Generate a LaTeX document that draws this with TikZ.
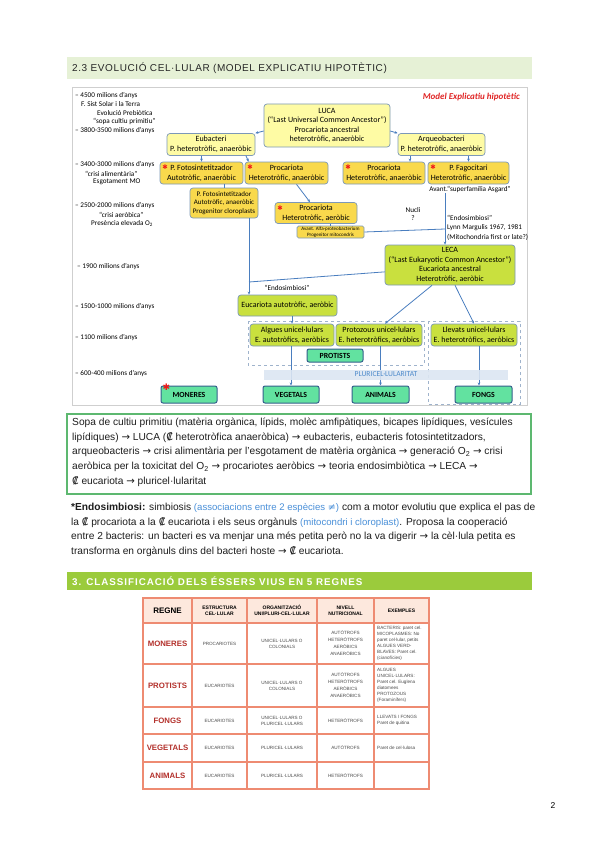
\documentclass[tikz,border=0pt]{standalone}
\usepackage{fontspec}
\setmainfont{Liberation Sans}
\newfontfamily\calib{Carlito}
\newfontfamily\dejavu{DejaVu Sans}
\newfontfamily\spaced[LetterSpace=6]{Liberation Sans}
\newfontfamily\spacedwide[LetterSpace=10]{Liberation Sans}
\usetikzlibrary{positioning, arrows.meta, calc}
\definecolor{paleyellow}{HTML}{FEFBA4}
\definecolor{goldfill}{HTML}{F9D94C}
\definecolor{limefill}{HTML}{C9E03E}
\definecolor{mintfill}{HTML}{62E2A0}
\definecolor{boxedge}{HTML}{7C98B8}
\definecolor{darkedge}{HTML}{35608C}
\definecolor{arrowblue}{HTML}{4A7EBF}
\definecolor{dashgray}{HTML}{9FB3CC}
\definecolor{bandblue}{HTML}{DCE6F2}
\definecolor{bandtext}{HTML}{4F8BCB}
\definecolor{starred}{HTML}{F01818}
\definecolor{titlered}{HTML}{E02424}
\definecolor{framegray}{HTML}{CFCFCF}
\definecolor{headpale}{HTML}{E6F1D6}
\definecolor{headgreen}{HTML}{9BCB3C}
\definecolor{boxgreen}{HTML}{5DB870}
\definecolor{linkblue}{HTML}{4A90D9}
\definecolor{tableline}{HTML}{EE8B72}
\definecolor{tablehead}{HTML}{FDE8DD}
\definecolor{regnered}{HTML}{B3302B}
\definecolor{celltext}{HTML}{4A4A4A}
\definecolor{bodytext}{HTML}{1E1E1E}
\newcommand{\fl}{{\dejavu →}}
\newcommand{\cel}{{\dejavu ₡}}
\newcommand{\blau}[1]{\textcolor{linkblue}{#1}}

\begin{document}
\begin{tikzpicture}[x=1pt, y=-1pt,
  ybox/.style={rectangle, draw=boxedge, line width=0.7pt, fill=paleyellow, rounded corners=3pt, align=center, inner sep=0pt, font=\calib\fontsize{8}{9.6}\selectfont},
  gbox/.style={ybox, fill=goldfill},
  lbox/.style={ybox, fill=limefill},
  mbox/.style={rectangle, draw=darkedge, line width=1pt, fill=mintfill, rounded corners=2pt, inner sep=0pt, font=\calib\bfseries\fontsize{7.8}{9}\selectfont},
  arrow/.style={-{Stealth[length=3pt, width=2.6pt]}, draw=arrowblue, line width=0.8pt},
  link/.style={draw=arrowblue, line width=0.8pt},
  tl/.style={anchor=west, inner sep=0pt, font=\calib\fontsize{7.2}{8}\selectfont},
  note/.style={inner sep=0pt, font=\calib\fontsize{7.2}{9.5}\selectfont},
  redstar/.style={text=starred, inner sep=0pt, font=\dejavu\fontsize{6.5}{6.5}\selectfont},
  dgroup/.style={draw=dashgray, dashed, line width=0.8pt},
  bodytxt/.style={anchor=north west, align=left, inner sep=0pt, text=bodytext, font=\fontsize{10.2}{14.6}\selectfont},
  cell/.style={inner sep=0pt, align=center, text=celltext, font=\fontsize{4.6}{6}\selectfont},
  thead/.style={inner sep=0pt, align=center, font=\bfseries\fontsize{5}{6.4}\selectfont},
  regne/.style={inner sep=0pt, text=regnered, font=\bfseries\fontsize{7.8}{9}\selectfont}
]
  \fill[white] (0,0) rectangle (599,848);
  \useasboundingbox (0,0) rectangle (599,848);

  \node[fill=headpale, minimum width=465pt, minimum height=22pt, anchor=north west, inner sep=0pt] (h1) at (67,57) {};
  \node[anchor=west, inner sep=0pt, text=black!85, font=\spaced\fontsize{10}{12}\selectfont] (h1t) at ([xshift=5pt]h1.west) {2.3 EVOLUCIÓ CEL·LULAR (MODEL EXPLICATIU HIPOTÈTIC)};

  \draw[framegray, line width=1pt] (72,88) rectangle (527,405);
  \node[anchor=east, inner sep=0pt, text=titlered, font=\calib\bfseries\itshape\fontsize{9}{10}\selectfont] (model) at (520,97) {Model Explicatiu hipotètic};

  \node[tl] (t1) at (75,96) {– 4500 milions d’anys};
  \node[tl] (t2) at (81,104.5) {F. Sist Solar i la Terra};
  \node[tl] (t3) at (97,113) {Evolució Prebiòtica};
  \node[tl] (t4) at (93,121.5) {“sopa cultiu primitiu”};
  \node[tl] (t5) at (75,130.5) {– 3800-3500 milions d’anys};
  \node[tl] (t6) at (75,165) {– 3400-3000 milions d’anys};
  \node[tl] (t7) at (85,173.5) {“crisi alimentària”};
  \node[tl] (t8) at (93,182) {Esgotament MO};
  \node[tl] (t9) at (75,206) {– 2500-2000 milions d’anys};
  \node[tl] (t10) at (99,214.5) {“crisi aeròbica”};
  \node[tl] (t11) at (91,223) {Presència elevada O\textsubscript{2}};
  \node[tl] (t12) at (77,267) {– 1900 milions d’anys};
  \node[tl] (t13) at (75,307) {– 1500-1000 milions d’anys};
  \node[tl] (t14) at (75,337.5) {– 1100 milions d’anys};
  \node[tl] (t15) at (75,374) {– 600-400 milions d’anys};

  \node[ybox, minimum width=126pt, minimum height=43pt] (luca) at (327,125.5) {LUCA\\(“Last Universal Common Ancestor”)\\Procariota ancestral\\heterotròfic, anaeròbic};
  \node[ybox, minimum width=88pt, minimum height=22pt] (eub) at (211,144.5) {Eubacteri\\P. heterotròfic, anaeròbic};
  \node[ybox, minimum width=87pt, minimum height=22pt] (arq) at (441.5,144.5) {Arqueobacteri\\P. heterotròfic, anaeròbic};
  \node[gbox, minimum width=83pt, minimum height=22pt] (fot) at (201.5,173) {P. Fotosintetitzador\\Autotròfic, anaeròbic};
  \node[gbox, minimum width=83pt, minimum height=22pt] (prl) at (286.5,173) {Procariota\\Heterotròfic, anaeròbic};
  \node[gbox, minimum width=82pt, minimum height=22pt] (prr) at (384,173) {Procariota\\Heterotròfic, anaeròbic};
  \node[gbox, minimum width=81pt, minimum height=22pt] (fag) at (468.5,173) {P. Fagocitari\\Heterotròfic, anaeròbic};
  \node[note] (asg) at (470,189.5) {Avant.“superfamília Asgard”};
  \node[gbox, minimum width=68pt, minimum height=30pt, font=\calib\fontsize{7}{8.6}\selectfont] (fot2) at (224,203) {P. Fotosintetitzador\\Autotròfic, anaeròbic\\Progenitor cloroplasts};
  \node[gbox, minimum width=82pt, minimum height=21pt] (pra) at (316,213) {Procariota\\Heterotròfic, aeròbic};
  \node[gbox, minimum width=67pt, minimum height=12pt, rounded corners=1.5pt, font=\calib\fontsize{5}{5.6}\selectfont] (alfa) at (330.5,232) {Avant. Alfa-proteobacterium\\Progenitor mitocondris};
  \node[note, align=center, font=\calib\fontsize{7.2}{8.6}\selectfont] (nuc) at (413,214) {Nucli\\?};
  \node[note, align=left, anchor=north west] (endn) at (447,215) {“Endosimbiosi”\\Lynn Margulis 1967, 1981\\(Mitochondria first or late?)};
  \node[lbox, minimum width=130pt, minimum height=40pt] (leca) at (450,265) {LECA\\(“Last Eukaryotic Common Ancestor”)\\Eucariota ancestral\\Heterotròfic, aeròbic};
  \node[note] (endl) at (287,287.5) {“Endosimbiosi”};
  \node[lbox, minimum width=99pt, minimum height=21pt] (euc) at (287.5,305.5) {Eucariota autotròfic, aeròbic};

  \draw[dgroup] (248,321) rectangle (424,365);
  \draw[dgroup] (428,321) rectangle (520,404);
  \node[lbox, minimum width=84pt, minimum height=22pt] (alg) at (292,335) {Algues unicel·lulars\\E. autotròfics, aeròbics};
  \node[lbox, minimum width=86pt, minimum height=22pt] (pro) at (379,335) {Protozous unicel·lulars\\E. heterotròfics, aeròbics};
  \node[lbox, minimum width=86pt, minimum height=22pt] (llev) at (474,335) {Llevats unicel·lulars\\E. heterotròfics, aeròbics};
  \node[mbox, minimum width=56pt, minimum height=13pt] (prot) at (335,355.5) {PROTISTS};
  \node[mbox, minimum width=56pt, minimum height=17pt] (mon) at (189,394.5) {MONERES};
  \node[mbox, minimum width=56pt, minimum height=17pt] (veg) at (291,394.5) {VEGETALS};
  \node[mbox, minimum width=57pt, minimum height=17pt] (ani) at (380.5,394.5) {ANIMALS};
  \node[mbox, minimum width=57pt, minimum height=17pt] (fon) at (483.5,394.5) {FONGS};

  \node[redstar, below right=3pt and 2.5pt of fot.north west] {✱};
  \node[redstar, below right=3pt and 2.5pt of prl.north west] {✱};
  \node[redstar, below right=3pt and 2.5pt of prr.north west] {✱};
  \node[redstar, below right=3pt and 2.5pt of fag.north west] {✱};
  \node[redstar, below right=3pt and 2.5pt of pra.north west] {✱};
  \node[redstar, font=\dejavu\fontsize{9}{9}\selectfont, below right=-2pt and 2pt of mon.north west] {✱};

  \draw[arrow] (luca.185) -- (eub.north east);
  \draw[arrow] (luca.-5) -- (arq.north west);
  \draw[arrow] (fot.north |- eub.south) -- (fot.north);
  \draw[arrow] (eub.-18) -- ([xshift=4pt]prl.north west);
  \draw[arrow] ([xshift=26pt]prr.north |- arq.south) -- ([xshift=26pt]prr.north);
  \draw[arrow] (fag.north |- arq.south) -- (fag.north);
  \draw[link] (fot2.north |- fot.south) -- (fot2.north);
  \draw[arrow] ([xshift=10pt]prl.south) -- ([xshift=-6pt]pra.north);
  \draw[link] (alfa.north |- pra.south) -- (alfa.north);
  \coordinate (mj) at (445,229);
  \draw[link] (alfa.east) -- (mj);
  \draw[arrow] (asg.south -| mj) -- (leca.north -| mj);
  \coordinate (jn) at (249,282);
  \draw[link] ([xshift=25pt]fot2.south) -- (jn);
  \draw[link] (leca.186) -- (jn);
  \draw[arrow] (jn) -- (jn |- euc.north);
  \draw[arrow] ([xshift=-18pt]leca.south) -- ([xshift=6pt]pro.north);
  \draw[arrow] ([xshift=5pt]leca.south) -- (llev.north);
  \draw[arrow] (alg.north |- euc.south) -- (alg.north);
  \draw[arrow] (alg.south -| veg) -- (veg.north);
  \draw[arrow] (ani.north |- pro.south) -- (ani.north);
  \draw[arrow] ([xshift=5pt]llev.south) -- ([xshift=-4.5pt]fon.north);

  \node[fill=bandblue, fill opacity=0.9, text opacity=1, minimum width=244pt, minimum height=10pt, inner sep=0pt, text=bandtext, font=\calib\fontsize{7.6}{8}\selectfont] (band) at (386,374.5) {PLURICEL·LULARITAT};

  \node[draw=boxgreen, line width=1.5pt, minimum width=464pt, minimum height=80pt, anchor=north west, inner sep=0pt] (sopabox) at (66,413) {};
  \node[bodytxt] (sopa) at (72,418) {Sopa de cultiu primitiu (matèria orgànica, lípids, molèc amfipàtiques, bicapes lipídiques, vesícules\\
lipídiques) \fl{} LUCA (\cel{} heterotròfica anaeròbica) \fl{} eubacteris, eubacteris fotosintetitzadors,\\
arqueobacteris \fl{} crisi alimentària per l'esgotament de matèria orgànica \fl{} generació O\textsubscript{2} \fl{} crisi\\
aeròbica per la toxicitat del O\textsubscript{2} \fl{} procariotes aeròbics \fl{} teoria endosimbiòtica \fl{} LECA \fl\\
\cel{} eucariota \fl{} pluricel·lularitat};

  \node[bodytxt] (endo) at (71,503) {\textbf{*Endosimbiosi:} simbiosis \blau{\fontsize{9.6}{10}\selectfont(associacions entre 2 espècies {\dejavu ≠})} com a motor evolutiu que explica el pas de\\
la \cel{} procariota a la \cel{} eucariota i els seus orgànuls \blau{\fontsize{9.6}{10}\selectfont(mitocondri i cloroplast)}. Proposa la cooperació\\
entre 2 bacteris: un bacteri es va menjar una més petita però no la va digerir \fl{} la cèl·lula petita es\\
transforma en orgànuls dins del bacteri hoste \fl{} \cel{} eucariota.};

  \node[fill=headgreen, minimum width=465pt, minimum height=18pt, anchor=north west, inner sep=0pt] (h3) at (67,572) {};
  \node[anchor=west, inner sep=0pt, text=white, font=\spacedwide\bfseries\fontsize{9.8}{11}\selectfont] (h3t) at ([xshift=5pt]h3.west) {3. CLASSIFICACIÓ DELS ÉSSERS VIUS EN 5 REGNES};

  \fill[tablehead] (143,598) rectangle (429,623);
  \draw[tableline, line width=1.6pt] (143,598) rectangle (429,789);
  \draw[tableline, line width=1.6pt] (143,623) -- (429,623);
  \draw[tableline, line width=1.6pt] (143,664) -- (429,664);
  \draw[tableline, line width=1.6pt] (143,707) -- (429,707);
  \draw[tableline, line width=1.6pt] (143,734) -- (429,734);
  \draw[tableline, line width=1.6pt] (143,762) -- (429,762);
  \draw[tableline, line width=1.6pt] (192,598) -- (192,789);
  \draw[tableline, line width=1.6pt] (247,598) -- (247,789);
  \draw[tableline, line width=1.6pt] (317,598) -- (317,789);
  \draw[tableline, line width=1.6pt] (374,598) -- (374,789);

  \node[thead, font=\bfseries\fontsize{8}{9}\selectfont] (c0) at (167.5,610.5) {REGNE};
  \node[thead] (c1) at (219.5,610.5) {ESTRUCTURA\\CEL·LULAR};
  \node[thead] (c2) at (282,610.5) {ORGANITZACIÓ\\UNI/PLURI-CEL·LULAR};
  \node[thead] (c3) at (345.5,610.5) {NIVELL\\NUTRICIONAL};
  \node[thead] (c4) at (401.5,610.5) {EXEMPLES};

  \node[regne] (r1) at (167.5,643.5) {MONERES};
  \node[cell] (r1a) at (219.5,643.5) {PROCARIOTES};
  \node[cell] (r1b) at (282,643.5) {UNICEL·LULARS O\\COLONIALS};
  \node[cell, font=\fontsize{4.6}{7}\selectfont] (r1c) at (345.5,643.5) {AUTÒTROFS\\HETERÒTROFS\\AERÒBICS\\ANAERÒBICS};
  \node[cell, align=left, anchor=west] (r1d) at (377,643.5) {BACTERIS: paret cel.\\MICOPLASMES: No\\paret cel·lular, petits\\ALGUES VERD-\\BLAVES: Paret cel.\\(cianofícies)};

  \node[regne] (r2) at (167.5,685.5) {PROTISTS};
  \node[cell] (r2a) at (219.5,685.5) {EUCARIOTES};
  \node[cell] (r2b) at (282,685.5) {UNICEL·LULARS O\\COLONIALS};
  \node[cell, font=\fontsize{4.6}{7}\selectfont] (r2c) at (345.5,685.5) {AUTÒTROFS\\HETERÒTROFS\\AERÒBICS\\ANAERÒBICS};
  \node[cell, align=left, anchor=west] (r2d) at (377,685.5) {ALGUES\\UNICEL·LULARS:\\Paret cel. Euglena\\diatomees\\PROTOZOUS\\(Foraminífers)};

  \node[regne] (r3) at (167.5,720.5) {FONGS};
  \node[cell] (r3a) at (219.5,720.5) {EUCARIOTES};
  \node[cell] (r3b) at (282,720.5) {UNICEL·LULARS O\\PLURICEL·LULARS};
  \node[cell] (r3c) at (345.5,720.5) {HETERÒTROFS};
  \node[cell, align=left, anchor=west] (r3d) at (377,720.5) {LLEVATS I FONGS\\Paret de quitina};

  \node[regne] (r4) at (167.5,748) {VEGETALS};
  \node[cell] (r4a) at (219.5,748) {EUCARIOTES};
  \node[cell] (r4b) at (282,748) {PLURICEL·LULARS};
  \node[cell] (r4c) at (345.5,748) {AUTÒTROFS};
  \node[cell, align=left, anchor=west] (r4d) at (377,748) {Paret de cel·lulosa};

  \node[regne] (r5) at (167.5,775.5) {ANIMALS};
  \node[cell] (r5a) at (219.5,775.5) {EUCARIOTES};
  \node[cell] (r5b) at (282,775.5) {PLURICEL·LULARS};
  \node[cell] (r5c) at (345.5,775.5) {HETERÒTROFS};

  \node[inner sep=0pt, font=\fontsize{8.5}{10}\selectfont] (pg) at (553,806) {2};
\end{tikzpicture}
\end{document}
